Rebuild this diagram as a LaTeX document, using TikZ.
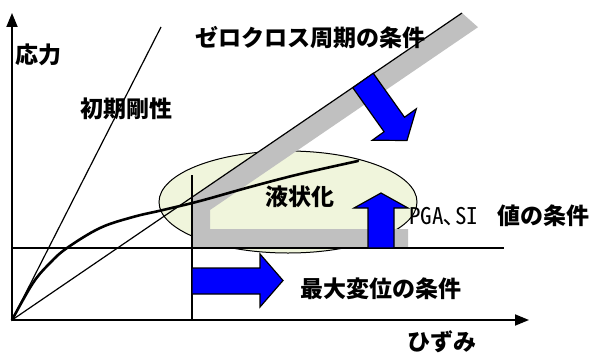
\documentclass[tikz,border=0pt]{standalone}
\usepackage{fontspec}
\newfontfamily\jp{Noto Sans CJK JP}
\newfontfamily\jplat{Noto Sans CJK JP}[RawFeature=+hwid]
\usetikzlibrary{arrows.meta,shapes.geometric}
\definecolor{ellfill}{RGB}{240,245,220}
\definecolor{bandgray}{RGB}{192,192,192}
\definecolor{arrblue}{RGB}{0,0,255}
\tikzset{
  lbl/.style={inner sep=0pt, font=\jp\bfseries\fontsize{23}{26}\selectfont},
  thin line/.style={line width=1.2pt},
  axis line/.style={line width=1.8pt, -{Triangle[length=14pt,width=11pt]}},
  blue arrow/.style={fill=arrblue, draw=black, line width=1.2pt, line join=miter},
}
\begin{document}
\begin{tikzpicture}[x=1pt,y=-1pt]
\useasboundingbox (0,0) rectangle (593,353);
\coordinate (O) at (12,320);
\coordinate (Ytip) at (12,13);
\coordinate (Xtip) at (529,320);
\coordinate (Stiff) at (161,27);
\coordinate (Sec) at (462,13);
\coordinate (Hl) at (12,248);
\coordinate (Hr) at (504,248);
\coordinate (Vt) at (192,175);
\coordinate (Vb) at (192,320);
% ellipse
\node (ell) [draw=black, line width=1pt, fill=ellfill, ellipse, minimum width=258pt, minimum height=102pt, inner sep=0pt] at (288,202) {};
% gray band
\fill[bandgray] (192,197.2) -- (462,13) -- (478,27.2) -- (210,210) -- (210,229) -- (408,229) -- (408,248) -- (192,248) -- cycle;
% lines
\draw[thin line] (O) -- (Sec);
\draw[thin line] (O) -- (Stiff);
\draw[thin line] (Hl) -- (Hr);
\draw[thin line] (Vt) -- (Vb);
\draw[axis line] (O) -- (Ytip);
\draw[axis line] (O) -- (Xtip);
% stress-strain curve
\draw[line width=2.6pt, line cap=round] plot[smooth, tension=0.6] coordinates {(12,320) (33,283) (50,263) (67,248) (100,228) (133,217) (163,210) (200,201) (250,187) (300,174) (358,161)};
% blue arrows
\draw[blue arrow] (373.2,73.25) -- (404.5,117.25) -- (416.3,108.8) -- (407,140.5) -- (372.3,140.2) -- (384.1,131.75) -- (352.8,87.75) -- cycle;
\draw[blue arrow] (192,268) -- (260,268) -- (260,254) -- (283,280.5) -- (260,307) -- (260,294) -- (192,294) -- cycle;
\draw[blue arrow] (368,248) -- (368,208) -- (354,208) -- (381,193) -- (408,208) -- (394,208) -- (394,248) -- cycle;
% labels
\node[lbl] (stress) at (38,55) {応力};
\node[lbl] (init) at (126,109) {初期剛性};
\node[lbl] (zero) at (310,37.5) {ゼロクロス周期の条件};
\node[lbl] (liq) at (300,197) {液状化};
\node[lbl] (maxd) at (381,289) {最大変位の条件};
\node[lbl] (strain) at (442,342) {ひずみ};
\node[inner sep=0pt, anchor=west, font=\jplat\fontsize{23}{26}\selectfont] (pga) at (409,216.5) {PGA､SI};
\node[lbl, anchor=west] (val) at (497,216) {値の条件};
\end{tikzpicture}
\end{document}
